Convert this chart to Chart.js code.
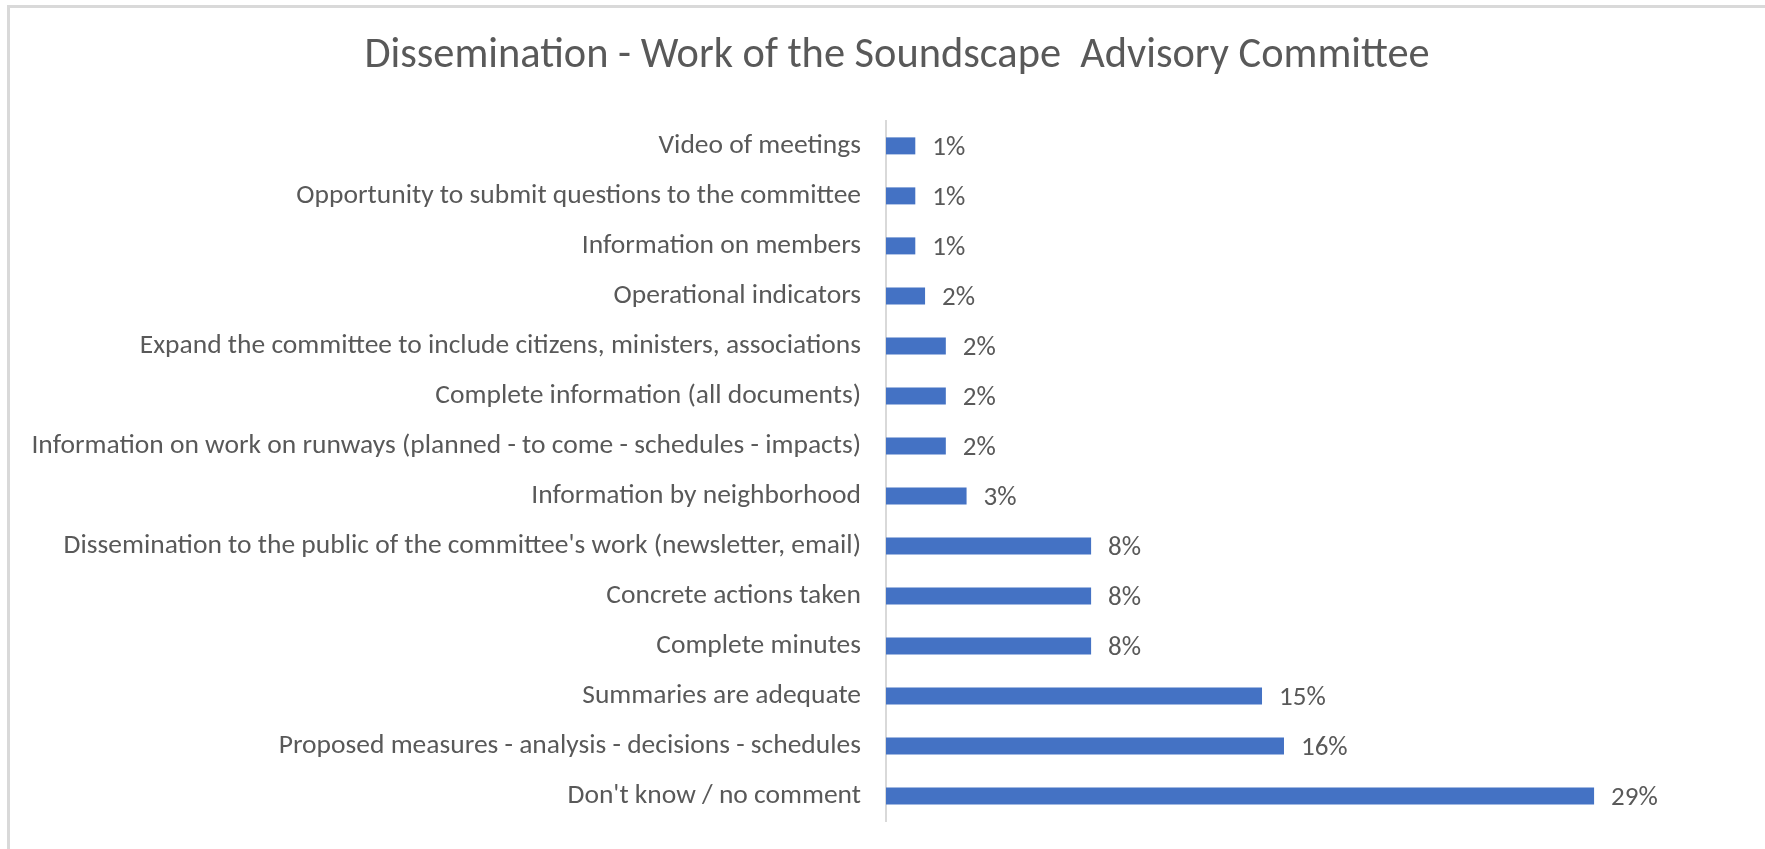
<!DOCTYPE html>
<html>
<head>
<meta charset="utf-8">
<script src="https://cdn.jsdelivr.net/npm/chart.js@4.4.0/dist/chart.umd.min.js"></script>
<style>
  html, body { margin: 0; padding: 0; background: #ffffff; }
  #wrap { position: relative; width: 1765px; height: 849px; }
  canvas { display: block; }
</style>
</head>
<body>
<div id="wrap"><canvas id="c" width="1765" height="849"></canvas></div>
<script>
const chartTitle = "Dissemination - Work of the Soundscape  Advisory Committee";
const categories = [
  "Video of meetings",
  "Opportunity to submit questions to the committee",
  "Information on members",
  "Operational indicators",
  "Expand the committee to include citizens, ministers, associations",
  "Complete information (all documents)",
  "Information on work on runways (planned - to come - schedules - impacts)",
  "Information by neighborhood",
  "Dissemination to the public of the committee's work (newsletter, email)",
  "Concrete actions taken",
  "Complete minutes",
  "Summaries are adequate",
  "Proposed measures - analysis - decisions - schedules",
  "Don't know / no comment"
];
const shares = [1.2, 1.2, 1.2, 1.6, 2.45, 2.45, 2.45, 3.3, 8.4, 8.4, 8.4, 15.4, 16.3, 29.0];

const FONT = "Carlito, Lato, 'Noto Sans', sans-serif";
const TEXT = "#595959";

const framePlugin = {
  id: 'frame',
  beforeDraw(chart) {
    const ctx = chart.ctx;
    ctx.save();
    ctx.fillStyle = '#ffffff';
    ctx.fillRect(0, 0, chart.width, chart.height);
    ctx.fillStyle = '#d9d9d9';
    ctx.fillRect(7, 5, chart.width - 7, 3);
    ctx.fillRect(7, 5, 3, chart.height - 5);
    ctx.restore();
  }
};

const valueLabels = {
  id: 'valueLabels',
  afterDatasetsDraw(chart) {
    const ctx = chart.ctx;
    const meta = chart.getDatasetMeta(0);
    const data = chart.data.datasets[0].data;
    ctx.save();
    ctx.font = "27px " + FONT;
    ctx.fillStyle = TEXT;
    ctx.textAlign = 'left';
    ctx.textBaseline = 'middle';
    meta.data.forEach((bar, i) => {
      ctx.fillText(Math.round(data[i]) + '%', bar.x + 17, bar.y + 2);
    });
    ctx.restore();
  }
};

new Chart(document.getElementById('c'), {
  type: 'bar',
  data: {
    labels: categories,
    datasets: [{
      data: shares,
      backgroundColor: '#4472c4',
      borderColor: '#4472c4',
      borderWidth: 0,
      barPercentage: 0.34,
      categoryPercentage: 1.0
    }]
  },
  options: {
    indexAxis: 'y',
    responsive: false,
    animation: false,
    devicePixelRatio: 1,
    layout: { padding: { left: 29, right: 0, top: 0, bottom: 28 } },
    plugins: {
      legend: { display: false },
      tooltip: { enabled: false },
      title: {
        display: true,
        text: chartTitle,
        color: TEXT,
        font: { family: FONT, size: 42.4, weight: 'normal', lineHeight: 1.2 },
        padding: { top: 31, bottom: 39 }
      }
    },
    scales: {
      x: {
        display: false,
        min: 0,
        max: 36
      },
      y: {
        afterFit(scale) {
          scale.width = 857;
          scale.paddingTop = 0;
          scale.paddingBottom = 0;
        },
        grid: { display: false, drawTicks: false },
        border: { display: true, color: '#d9d9d9', width: 2 },
        ticks: {
          color: TEXT,
          padding: 25,
          font: { family: FONT, size: 27.5 },
          autoSkip: false
        }
      }
    }
  },
  plugins: [framePlugin, valueLabels]
});
</script>
</body>
</html>
